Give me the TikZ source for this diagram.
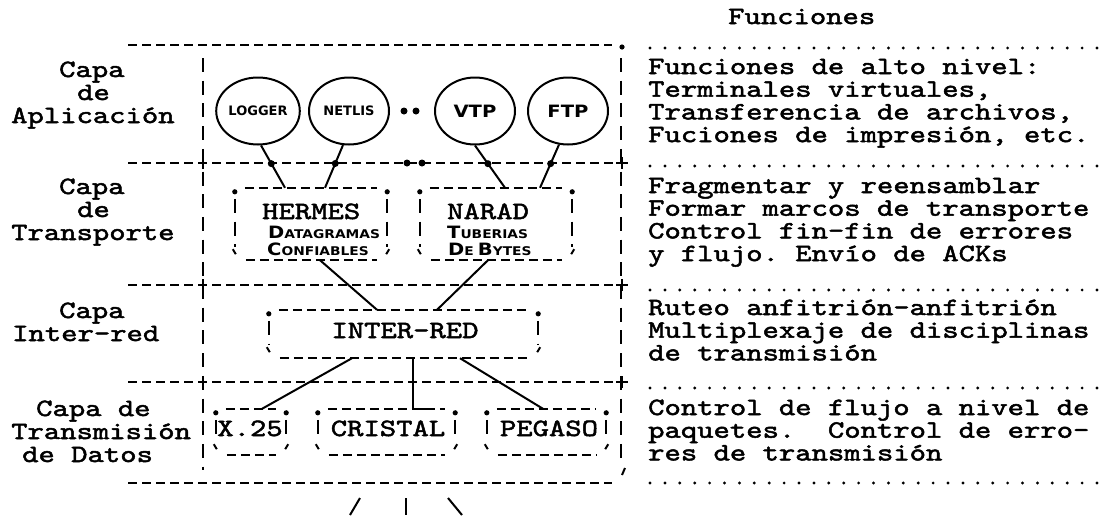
\documentclass[tikz,border=0pt]{standalone}
\usepackage{fontspec}
\usetikzlibrary{calc,shapes.geometric}

\newfontfamily\tw{lmmono10-regular.otf}[FakeStretch=1.25, FakeBold=2]
\newfontfamily\rotulo{DejaVu Sans}
\newfontfamily\versalfont{DejaVu Sans}[FakeStretch=1.15, BoldFeatures={FakeStretch=1.15}]
% big initial + small capitals, hand lettered look
\newcommand\versal[2]{{\fontsize{17}{17}\selectfont#1}{\fontsize{12}{12}\selectfont#2}}
\lineskiplimit=-100pt

% typed box: dotted top corners, dashed sides, ticks at the bottom corners
\newcommand\marco[1]{%
  \draw[raya] ($(#1.north west)+(10,0)$) -- ($(#1.north east)+(-10,0)$);
  \draw[raya] ($(#1.south west)+(11,0)$) -- ($(#1.south east)+(-10,0)$);
  \draw[barra] ($(#1.north west)+(0,11)$) -- ($(#1.south west)+(0,-13)$);
  \draw[barra] ($(#1.north east)+(0,11)$) -- ($(#1.south east)+(0,-13)$);
  \fill ($(#1.north west)+(0,4)$) circle (2.6pt);
  \fill ($(#1.north east)+(0,4)$) circle (2.6pt);
  \draw[trazo] ($(#1.south west)+(-2,-11)$) -- ++(3,5);
  \draw[trazo] ($(#1.south east)+(2,-11)$) -- ++(-3,5);
}

\begin{document}
\begin{tikzpicture}[x=1pt, y=-1pt,
  raya/.style={line width=2.2pt, dash pattern=on 9pt off 5pt},
  barra/.style={line width=2.2pt, dash pattern=on 14pt off 8.7pt},
  trazo/.style={line width=2pt},
  puntos/.style={line width=3.2pt, line cap=round, dash pattern=on 0pt off 14.9pt},
  maquina/.style={font=\tw\fontsize{24.9}{22.7}\selectfont, inner sep=0pt,
    text height=14pt, text depth=4pt},
  esfera/.style={ellipse, draw, line width=2pt, minimum width=80pt, minimum height=67pt,
    inner sep=0pt, font=\rotulo\bfseries\fontsize{13}{13}\selectfont},
  grande/.style={font=\versalfont\bfseries\fontsize{17}{17}\selectfont},
  letrero/.style={anchor=base west, inner sep=0pt, font=\versalfont\bfseries},
  caja/.style={inner sep=0pt},
  nodito/.style={circle, fill, inner sep=0pt, minimum size=7pt},
]
\useasboundingbox (0,0) rectangle (1110,517);

% Frame
\draw[raya] (128,45) -- (612,45);
\fill (622,47) circle (2.6pt);
\foreach \y in {163,285,382} {
  \draw[raya] (128,\y) -- (616,\y);
  \draw[trazo] (203,\y-6) -- (203,\y+6);
  \draw[trazo] (622,\y-6) -- (622,\y+6);
  \draw[trazo] (616,\y) -- (628,\y);
}
\draw[raya] (128,483) -- (612,483);
\draw[barra] (203,58) -- (203,470);
\draw[barra] (621,58) -- (621,462);
\draw[trazo] (625,468) -- (622,475);

% Layer names
\node[maquina, anchor=base west] (ap1) at (59,77) {Capa};
\node[maquina, anchor=base west] (ap2) at (77,100) {de};
\node[maquina, anchor=base west] (ap3) at (11,123) {Aplicación};
\node[maquina, anchor=base west] (tr1) at (59,194) {Capa};
\node[maquina, anchor=base west] (tr2) at (77,217) {de};
\node[maquina, anchor=base west] (tr3) at (11,240) {Transporte};
\node[maquina, anchor=base west] (ir1) at (59,318) {Capa};
\node[maquina, anchor=base west] (ir2) at (12,341) {Inter-red};
\node[maquina, anchor=base west] (td1) at (36,416) {Capa de};
\node[maquina, anchor=base west] (td2) at (11,439) {Transmisión};
\node[maquina, anchor=base west] (td3) at (22,462) {de Datos};

% Functions column
\node[maquina, anchor=base west] (titulo) at (728,24) {Funciones};
\foreach \y in {48,166,290,388,483}
  \draw[puntos] (650,\y) -- (1100,\y);
\foreach \t [count=\i from 0] in {Funciones de alto nivel:, {Terminales virtuales,},
    {Transferencia de archivos,}, {Fuciones de impresión, etc.}}
  \node[maquina, anchor=base west] (fa\i) at (648,74+22.7*\i) {\t};
\foreach \t [count=\i from 0] in {Fragmentar y reensamblar, Formar marcos de transporte,
    Control fin-fin de errores, y flujo.\ Envío de ACKs}
  \node[maquina, anchor=base west] (ft\i) at (648,193+22.7*\i) {\t};
\foreach \t [count=\i from 0] in {Ruteo anfitrión-anfitrión, Multiplexaje de disciplinas,
    de transmisión}
  \node[maquina, anchor=base west] (fi\i) at (648,315+22.7*\i) {\t};
\foreach \t [count=\i from 0] in {Control de flujo a nivel de, paquetes.\ \ Control de erro-,
    res de transmisión}
  \node[maquina, anchor=base west] (fd\i) at (648,415+22.7*\i) {\t};

% Applications
\node[esfera] (logger) at (258,111) {LOGGER};
\node[esfera] (netlis) at (349,111) {NETLIS};
\node[nodito] (p1) at (404,111) {};
\node[nodito] (p2) at (416,111) {};
\node[esfera, grande] (vtp) at (475,111) {VTP};
\node[esfera, grande] (ftp) at (568,111) {FTP};
\node[nodito] (p3) at (407,163) {};
\node[nodito] (p4) at (422,163) {};

% Transport
\node[caja, minimum width=152pt, minimum height=72pt] (hermes) at (311,224) {};
\node[caja, minimum width=152pt, minimum height=72pt] (narad) at (496,224) {};
\marco{hermes}
\marco{narad}
\node[maquina, anchor=base west] (hermest) at (262,219) {HERMES};
\node[letrero] (dg1) at (268,238) {\versal{D}{ATAGRAMAS}};
\node[letrero] (dg2) at (267,255) {\versal{C}{ONFIABLES}};
\node[maquina, anchor=base west] (naradt) at (447,219) {NARAD};
\node[letrero] (tb1) at (447,238) {\versal{T}{UBERIAS}};
\node[letrero] (tb2) at (448,255) {\versal{D}{E} \versal{B}{YTES}};

\draw[trazo] (logger.-85) -- node[pos=0.43, nodito] (c1) {} ($(hermes.north)+(-26,0)$);
\draw[trazo] (netlis.-100) -- node[pos=0.43, nodito] (c2) {} ($(hermes.north)+(14,0)$);
\draw[trazo] (vtp.-90) -- node[pos=0.43, nodito] (c3) {} ($(narad.north)+(9,0)$);
\draw[trazo] (ftp.-105) -- node[pos=0.44, nodito] (c4) {} ($(narad.north)+(44,0)$);

% Inter-network
\node[caja, minimum width=269pt, minimum height=48pt] (ired) at (403.5,334) {};
\marco{ired}
\node[maquina] (iredt) at (405,333) {INTER-RED};
\draw[trazo] ($(hermes.south)+(9,0)$) -- ($(ired.north)+(-26.5,0)$);
\draw[trazo] ($(narad.south)+(-8,0)$) -- ($(ired.north)+(33.5,0)$);

% Data transmission
\node[caja, minimum width=70pt, minimum height=46pt] (x25) at (251,432) {};
\node[caja, minimum width=137pt, minimum height=46pt] (cristal) at (386.5,432) {};
\node[caja, minimum width=119pt, minimum height=46pt] (pegaso) at (546.5,432) {};
\marco{x25}
\marco{cristal}
\marco{pegaso}
\node[maquina] (x25t) at (250,431) {X.25};
\node[maquina] (cristalt) at (388,431) {CRISTAL};
\node[maquina] (pegasot) at (549,431) {PEGASO};
\draw[trazo] ($(ired.south)+(-51.5,0)$) -- ($(x25.north)+(11,0)$);
\draw[trazo] ($(ired.south)+(9.5,0)$) |- ($(cristal.north)+(46,0)$);
\draw[trazo] ($(ired.south)+(56.5,0)$) -- ($(pegaso.north)+(-3.5,0)$);

% continues below
\draw[trazo] (350,515) -- (360,498);
\draw[trazo] (406,498) -- (406,515);
\draw[trazo] (448,498) -- (462,515);
\end{tikzpicture}
\end{document}
